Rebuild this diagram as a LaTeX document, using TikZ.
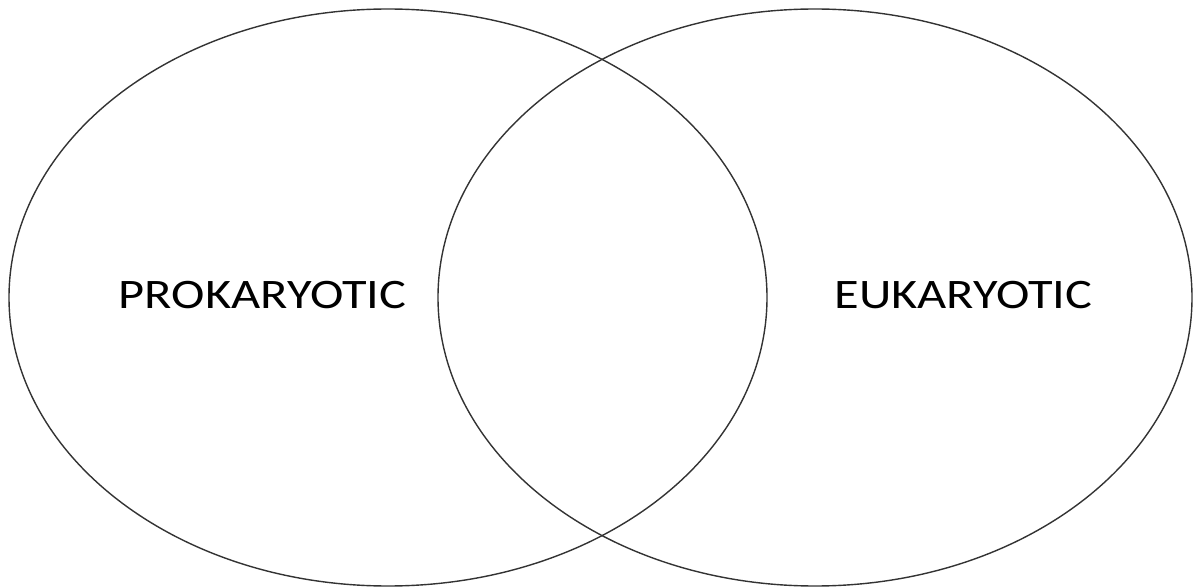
\documentclass[tikz,border=0pt]{standalone}
\usepackage{fontspec}
\setmainfont{Carlito}[FakeStretch=1.2]
\usetikzlibrary{shapes.geometric}
\tikzstyle{set} = [ellipse, draw=black!80, line width=0.7pt, inner sep=0pt, minimum height=288.5pt]
\tikzstyle{label} = [font=\fontsize{21}{24}\selectfont, inner sep=0pt]

\begin{document}
\begin{tikzpicture}[x=0.5pt,y=-0.5pt]
            \useasboundingbox (0,0) rectangle (1194,588);
            \node(prok)[set,minimum width=379pt]at(388,297.5){};
            \node(euk)[set,minimum width=377pt]at(815,297.5){};
            \node(prokt)[label]at(262.5,295){PROKARYOTIC};
            \node(eukt)[label]at(963.5,295){EUKARYOTIC};
        \end{tikzpicture}
\end{document}
